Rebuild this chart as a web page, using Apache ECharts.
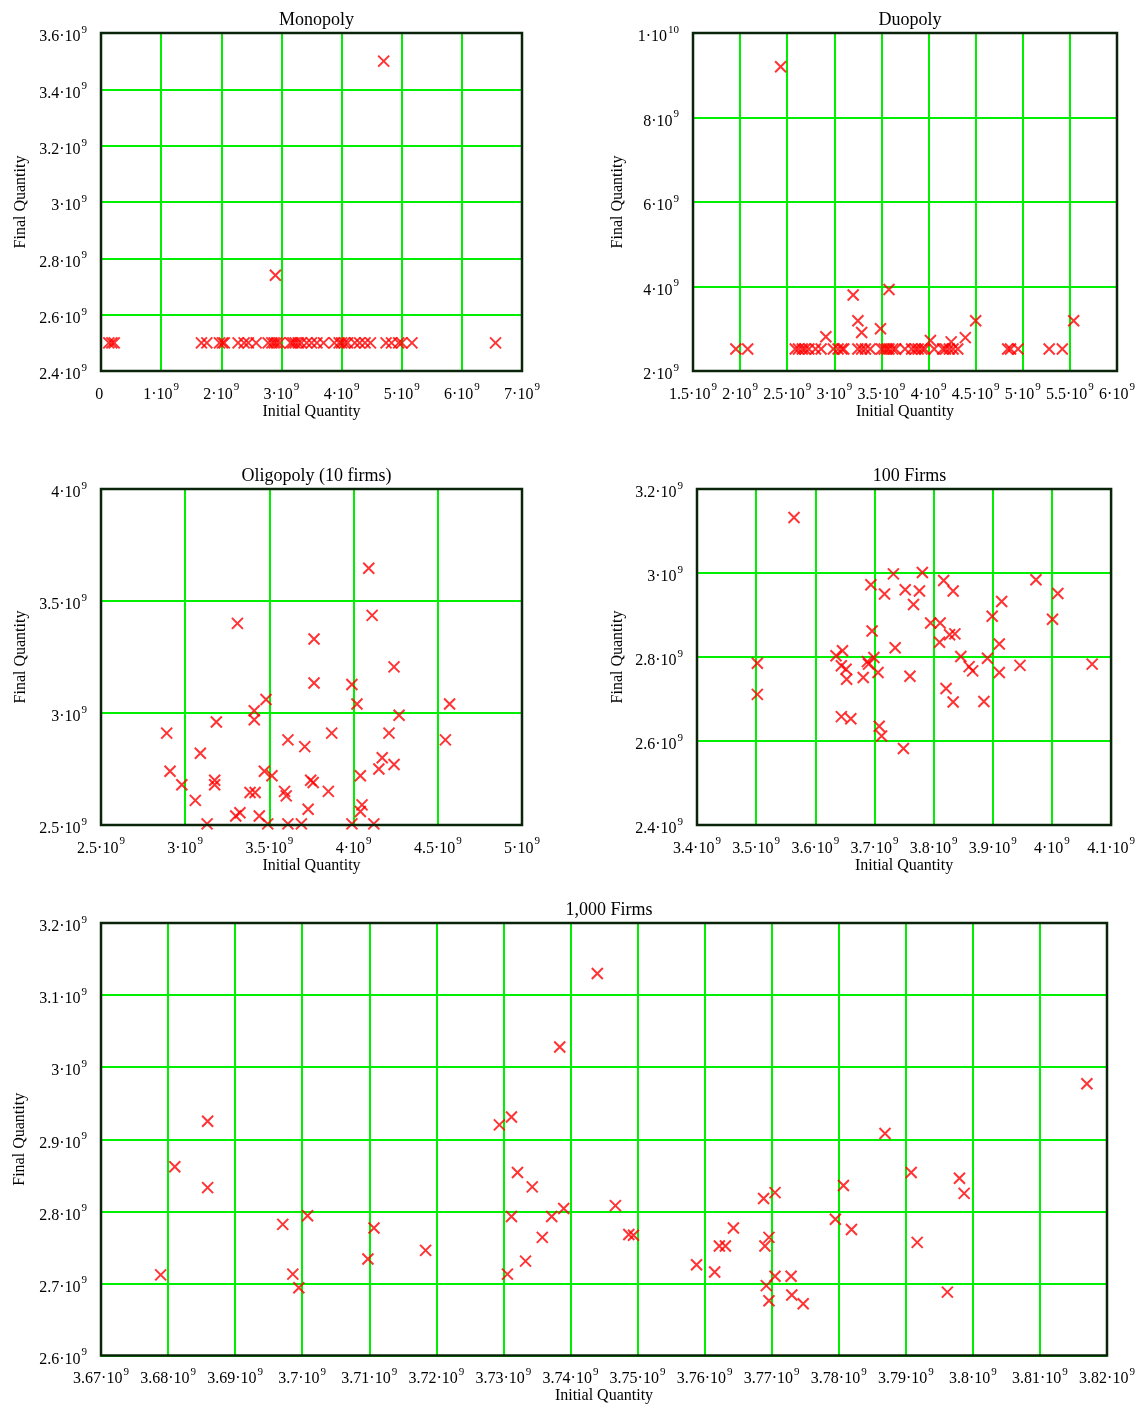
<!DOCTYPE html>
<html>
<head>
<meta charset="utf-8">
<script src="https://cdn.jsdelivr.net/npm/echarts@6/dist/echarts.min.js"></script>
<style>
  html, body { margin: 0; padding: 0; background: #fff; }
  #chart { width: 1138px; height: 1405px; }
</style>
</head>
<body>
<div id="chart"></div>
<script>
// all values in units of 10^9
const monopolyInitial = [0.13, 0.18, 0.22, 1.67, 1.76, 1.97, 2.02, 2.05, 2.28, 2.38, 2.45, 2.58, 2.78, 2.84, 2.88, 2.92, 2.97,
  3.15, 3.19, 3.23, 3.28, 3.33, 3.42, 3.50, 3.59, 3.70, 3.88, 3.96, 4.0, 4.05, 4.1, 4.22, 4.3, 4.39, 4.48, 4.74, 4.83, 4.95, 5.0, 5.17, 6.56,
  4.7, 2.9];
const monopolyFinal = [2.5, 2.5, 2.5, 2.5, 2.5, 2.5, 2.5, 2.5, 2.5, 2.5, 2.5, 2.5, 2.5, 2.5, 2.5, 2.5, 2.5,
  2.5, 2.5, 2.5, 2.5, 2.5, 2.5, 2.5, 2.5, 2.5, 2.5, 2.5, 2.5, 2.5, 2.5, 2.5, 2.5, 2.5, 2.5, 2.5, 2.5, 2.5, 2.5, 2.5, 2.5,
  3.5, 2.74];

const duopolyInitial = [1.955, 2.08, 2.43, 2.585, 2.62, 2.66, 2.69, 2.73, 2.80, 2.86, 2.91, 2.99, 3.04, 3.08, 3.10,
  3.20, 3.25, 3.29, 3.25, 3.29, 3.33, 3.38, 3.49, 3.58, 3.50, 3.53, 3.56, 3.58, 3.62, 3.65, 3.75, 3.82, 3.86, 3.89,
  3.93, 3.96, 4.02, 4.06, 4.15, 4.18, 4.22, 4.26, 4.31, 4.24, 4.39, 4.50, 4.84, 4.87, 4.95, 5.28, 5.42, 5.54];
const duopolyFinal = [2.52, 2.52, 9.2, 2.52, 2.52, 2.52, 2.52, 2.52, 2.52, 2.52, 2.81, 2.52, 2.52, 2.52, 2.52,
  3.80, 3.19, 2.91, 2.52, 2.52, 2.52, 2.52, 3.0, 3.93, 2.52, 2.52, 2.52, 2.52, 2.52, 2.52, 2.52, 2.52, 2.52, 2.52,
  2.52, 2.52, 2.72, 2.52, 2.52, 2.52, 2.52, 2.52, 2.52, 2.69, 2.79, 3.19, 2.52, 2.52, 2.52, 2.52, 2.52, 3.19];

const oligopolyInitial = [4.09, 4.11, 3.31, 3.765, 4.24, 3.765, 3.99, 3.48, 4.02, 4.57, 3.41, 3.41, 3.185, 4.27,
  2.89, 3.87, 4.21, 3.61, 4.545, 3.71, 3.09, 4.17, 4.24, 4.15, 2.91, 3.47, 3.515, 4.04, 3.745, 3.175, 3.76, 3.175,
  2.98, 3.85, 3.385, 3.415, 3.59, 3.60, 3.06, 4.05, 4.04, 3.73, 3.325, 3.30, 3.44,
  3.13, 3.49, 3.61, 3.69, 3.99, 4.12];
const oligopolyFinal = [3.646, 3.436, 3.40, 3.33, 3.206, 3.134, 3.127, 3.06, 3.04, 3.04, 3.01, 2.97, 2.96, 2.99,
  2.91, 2.91, 2.91, 2.88, 2.88, 2.85, 2.82, 2.80, 2.77, 2.75, 2.74, 2.74, 2.72, 2.72, 2.70, 2.70, 2.69, 2.68,
  2.68, 2.65, 2.645, 2.645, 2.65, 2.63, 2.61, 2.59, 2.56, 2.57, 2.555, 2.54, 2.54,
  2.505, 2.505, 2.505, 2.505, 2.505, 2.505];

const firms100Initial = [3.564, 3.502, 3.502, 3.635, 3.646, 3.644, 3.652, 3.653, 3.644, 3.66, 3.681, 3.688, 3.69,
  3.699, 3.696, 3.694, 3.706, 3.708, 3.712, 3.717, 3.732, 3.735, 3.752, 3.749, 3.76, 3.766, 3.776, 3.781, 3.795,
  3.811, 3.817, 3.81, 3.827, 3.836, 3.833, 3.821, 3.833, 3.846, 3.86, 3.866, 3.885, 3.891, 3.899, 3.911, 3.911,
  3.915, 3.946, 3.973, 4.001, 4.01, 4.068];
const firms100Final = [3.132, 2.785, 2.711, 2.803, 2.815, 2.779, 2.771, 2.747, 2.658, 2.653, 2.751, 2.789, 2.783,
  2.799, 2.862, 2.972, 2.763, 2.635, 2.612, 2.950, 2.998, 2.822, 2.960, 2.582, 2.754, 2.925, 2.957, 3.001, 2.881,
  2.881, 2.982, 2.835, 2.853, 2.855, 2.957, 2.725, 2.693, 2.801, 2.777, 2.767, 2.694, 2.797, 2.897, 2.831, 2.763,
  2.932, 2.780, 2.984, 2.890, 2.951, 2.783];

const firms1000Initial = [3.6789, 3.681, 3.6859, 3.6859, 3.6971, 3.6986, 3.6995, 3.7008, 3.7098, 3.7107, 3.7184,
  3.7294, 3.7312, 3.7321, 3.7343, 3.7312, 3.7306, 3.7333, 3.7358, 3.7372, 3.739, 3.7384, 3.744, 3.7467, 3.7487,
  3.7494, 3.7588, 3.7615, 3.7622, 3.7631, 3.7643, 3.7688, 3.7705, 3.769, 3.7696, 3.7692, 3.7705, 3.7696, 3.7729,
  3.773, 3.7747, 3.7795, 3.7807, 3.7819, 3.7869, 3.7908, 3.7917, 3.7962, 3.798, 3.7987, 3.817];
const firms1000Final = [2.712, 2.862, 2.925, 2.833, 2.782, 2.713, 2.694, 2.794, 2.734, 2.777, 2.746,
  2.92, 2.931, 2.854, 2.834, 2.793, 2.713, 2.731, 2.764, 2.793, 2.804, 3.028, 3.130, 2.808, 2.768,
  2.767, 2.726, 2.716, 2.752, 2.752, 2.777, 2.818, 2.826, 2.752, 2.764, 2.697, 2.71, 2.676, 2.71,
  2.684, 2.672, 2.789, 2.836, 2.775, 2.908, 2.854, 2.757, 2.688, 2.846, 2.825, 2.977];

// axis ranges [min, max, step], units of 10^9
const monopolyXRange = [0, 7, 1];
const monopolyYRange = [2.4, 3.6, 0.2];
const duopolyXRange = [1.5, 6, 0.5];
const duopolyYRange = [2, 10, 2];
const oligopolyXRange = [2.5, 5, 0.5];
const oligopolyYRange = [2.5, 4, 0.5];
const firms100XRange = [3.4, 4.1, 0.1];
const firms100YRange = [2.4, 3.2, 0.2];
const firms1000XRange = [3.67, 3.82, 0.01];
const firms1000YRange = [2.6, 3.2, 0.1];

const titles = ['Monopoly', 'Duopoly', 'Oligopoly (10 firms)', '100 Firms', '1,000 Firms'];

const FONT = 'Liberation Serif';
const B = 1e9;

function sciLabel(v) {
  if (v === 0) return '{m|0}{s| }';
  const e = Math.floor(Math.log10(Math.abs(v)) + 1e-9);
  const m = parseFloat((v / Math.pow(10, e)).toFixed(4));
  return '{m|' + m + '·10}{s|' + e + '}';
}

const labelRich = {
  m: { fontFamily: FONT, fontSize: 16, color: '#000' },
  s: { fontFamily: FONT, fontSize: 11, color: '#000', padding: [0, 0, 14, 1] }
};

const grids = [
  { left: 101, top: 33, width: 421, height: 338 },
  { left: 693, top: 33, width: 424, height: 338 },
  { left: 101, top: 489, width: 421, height: 336 },
  { left: 697, top: 489, width: 415, height: 336 },
  { left: 101, top: 923, width: 1006, height: 433 }
];
const yNameGaps = [72, 67, 72, 71, 72];

function makeAxis(range, idx, isX) {
  return {
    type: 'value',
    gridIndex: idx,
    min: Math.round(range[0] * B),
    max: Math.round(range[1] * B),
    interval: Math.round(range[2] * B),
    name: isX ? 'Initial Quantity' : 'Final Quantity',
    nameLocation: 'middle',
    nameGap: isX ? 29 : yNameGaps[idx],
    nameTextStyle: { fontFamily: FONT, fontSize: 16, color: '#000' },
    axisLine: { show: false },
    axisTick: { show: false },
    axisLabel: {
      margin: isX ? 11 : 14,
      padding: isX ? 0 : [8, 0, 0, 0],
      formatter: sciLabel,
      rich: labelRich,
      showMinLabel: true,
      showMaxLabel: true
    },
    splitLine: { show: true, lineStyle: { color: '#00ee00', width: 2 } }
  };
}

const xRanges = [monopolyXRange, duopolyXRange, oligopolyXRange, firms100XRange, firms1000XRange];
const yRanges = [monopolyYRange, duopolyYRange, oligopolyYRange, firms100YRange, firms1000YRange];
const xs = [monopolyInitial, duopolyInitial, oligopolyInitial, firms100Initial, firms1000Initial];
const ys = [monopolyFinal, duopolyFinal, oligopolyFinal, firms100Final, firms1000Final];

let chart = echarts.init(document.getElementById('chart'));
chart.setOption({
  backgroundColor: '#fff',
  animation: false,
  title: titles.map((t, i) => ({
    text: t,
    left: grids[i].left + grids[i].width / 2,
    top: grids[i].top - 27,
    textAlign: 'center',
    textStyle: { fontFamily: FONT, fontSize: 18, fontWeight: 'normal', color: '#000' }
  })),
  grid: grids.map(g => Object.assign({
    show: true,
    z: 5,
    backgroundColor: 'transparent',
    borderColor: '#0a240a',
    borderWidth: 2.5
  }, g)),
  xAxis: xRanges.map((r, i) => makeAxis(r, i, true)),
  yAxis: yRanges.map((r, i) => makeAxis(r, i, false)),
  series: xs.map((xv, i) => ({
    type: 'scatter',
    xAxisIndex: i,
    yAxisIndex: i,
    symbol: 'path://M0,0L10,10M10,0L0,10',
    symbolSize: 11,
    itemStyle: { color: 'rgba(0,0,0,0)', borderColor: '#ff0000', borderWidth: 2 },
    data: xv.map((x, j) => [x * B, ys[i][j] * B])
  }))
});
</script>
</body>
</html>
